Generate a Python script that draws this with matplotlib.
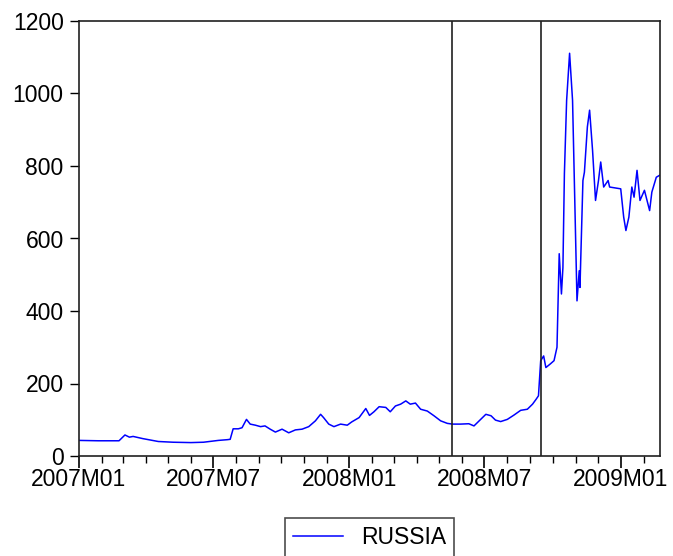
import matplotlib
matplotlib.use("Agg")
import matplotlib.pyplot as plt
import matplotlib.dates as mdates
import pandas as pd

plt.rcParams['font.family'] = ['Liberation Sans', 'DejaVu Sans']

# Russia CDS spread (bp), sampled from the daily series
dates = [
    "2007-01-01", "2007-01-27", "2007-02-24", "2007-03-04", "2007-03-10", "2007-03-15",
    "2007-03-28", "2007-04-18", "2007-05-08", "2007-06-01", "2007-06-18", "2007-07-08",
    "2007-07-20", "2007-07-24", "2007-07-28", "2007-08-04", "2007-08-09", "2007-08-15",
    "2007-08-20", "2007-08-27", "2007-09-03", "2007-09-09", "2007-09-16", "2007-09-23",
    "2007-10-02", "2007-10-11", "2007-10-20", "2007-10-29", "2007-11-07", "2007-11-16",
    "2007-11-23", "2007-11-27", "2007-12-04", "2007-12-11", "2007-12-20", "2007-12-29",
    "2008-01-04", "2008-01-14", "2008-01-23", "2008-01-28", "2008-02-03", "2008-02-10",
    "2008-02-19", "2008-02-25", "2008-03-03", "2008-03-10", "2008-03-17", "2008-03-23",
    "2008-03-30", "2008-04-06", "2008-04-15", "2008-04-24", "2008-05-03", "2008-05-12",
    "2008-05-19", "2008-05-30", "2008-06-10", "2008-06-17", "2008-06-24", "2008-07-03",
    "2008-07-10", "2008-07-16", "2008-07-23", "2008-08-01", "2008-08-10", "2008-08-19",
    "2008-08-28", "2008-09-04", "2008-09-09", "2008-09-12", "2008-09-15", "2008-09-19",
    "2008-09-22", "2008-09-28", "2008-10-03", "2008-10-07", "2008-10-10", "2008-10-13",
    "2008-10-15", "2008-10-17", "2008-10-20", "2008-10-24", "2008-10-28", "2008-10-31",
    "2008-11-03", "2008-11-06", "2008-11-07", "2008-11-11", "2008-11-13", "2008-11-17",
    "2008-11-20", "2008-11-24", "2008-11-28", "2008-12-02", "2008-12-05", "2008-12-09",
    "2008-12-15", "2008-12-17", "2009-01-01", "2009-01-05", "2009-01-08", "2009-01-12",
    "2009-01-16", "2009-01-19", "2009-01-23", "2009-01-27", "2009-02-02", "2009-02-09",
    "2009-02-12", "2009-02-18", "2009-02-23",
]
russia = [
    43, 42, 42, 58, 52, 54,
    48, 40, 38, 37, 38, 43,
    45, 46, 75, 75, 78, 101,
    88, 85, 81, 83, 74, 66,
    74, 64, 72, 74, 81, 97,
    115, 106, 88, 81, 88, 85,
    94, 106, 131, 112, 122, 136,
    134, 122, 138, 143, 152, 143,
    146, 129, 124, 111, 97, 90,
    88, 88, 89, 83, 97, 115,
    111, 99, 95, 101, 113, 126,
    129, 143, 157, 166, 263, 276,
    244, 254, 263, 300, 558, 447,
    520, 779, 981, 1111, 981, 705,
    428, 511, 465, 760, 783, 908,
    954, 843, 705, 760, 811, 742,
    760, 742, 737, 659, 622, 659,
    742, 714, 788, 705, 733, 677,
    728, 769, 775,
]
break_dates = ["2008-05-19", "2008-09-15"]
x_start, x_end = "2007-01-01", "2009-02-23"

dt = pd.to_datetime(dates)

fig = plt.figure(figsize=(6.73, 5.56), dpi=100)
ax = fig.add_axes([79 / 673, 1 - 456 / 556, (660 - 79) / 673, (456 - 21) / 556])

ax.plot(dt, russia, color='#0000FF', lw=1.1, label='RUSSIA')
for d in break_dates:
    ax.axvline(pd.Timestamp(d), color='#202020', lw=1.2)

ax.set_xlim(pd.Timestamp(x_start), pd.Timestamp(x_end))
ax.set_ylim(0, 1200)
ax.set_yticks(range(0, 1201, 200))

ax.xaxis.set_major_locator(mdates.MonthLocator(bymonth=[1, 7]))
ax.xaxis.set_minor_locator(mdates.MonthLocator())
ax.xaxis.set_major_formatter(mdates.DateFormatter('%YM%m'))

ax.tick_params(axis='y', direction='out', length=6.5, width=1, pad=4.5, labelsize=16.5)
ax.tick_params(axis='x', which='major', direction='out', length=8.5, width=1.2, pad=0, labelsize=16.5)
ax.tick_params(axis='x', which='minor', direction='out', length=5, width=1)
for s in ax.spines.values():
    s.set_color('#202020')
    s.set_linewidth(1.2)

leg = fig.legend(loc='upper center', bbox_to_anchor=(369.5 / 673, 1 - 518 / 556),
                 borderaxespad=0, fontsize=16.5, frameon=True, fancybox=False,
                 edgecolor='#202020', handlelength=2.2, borderpad=0.35)
leg.get_frame().set_linewidth(1.2)

fig.savefig('out.png', dpi=100)
